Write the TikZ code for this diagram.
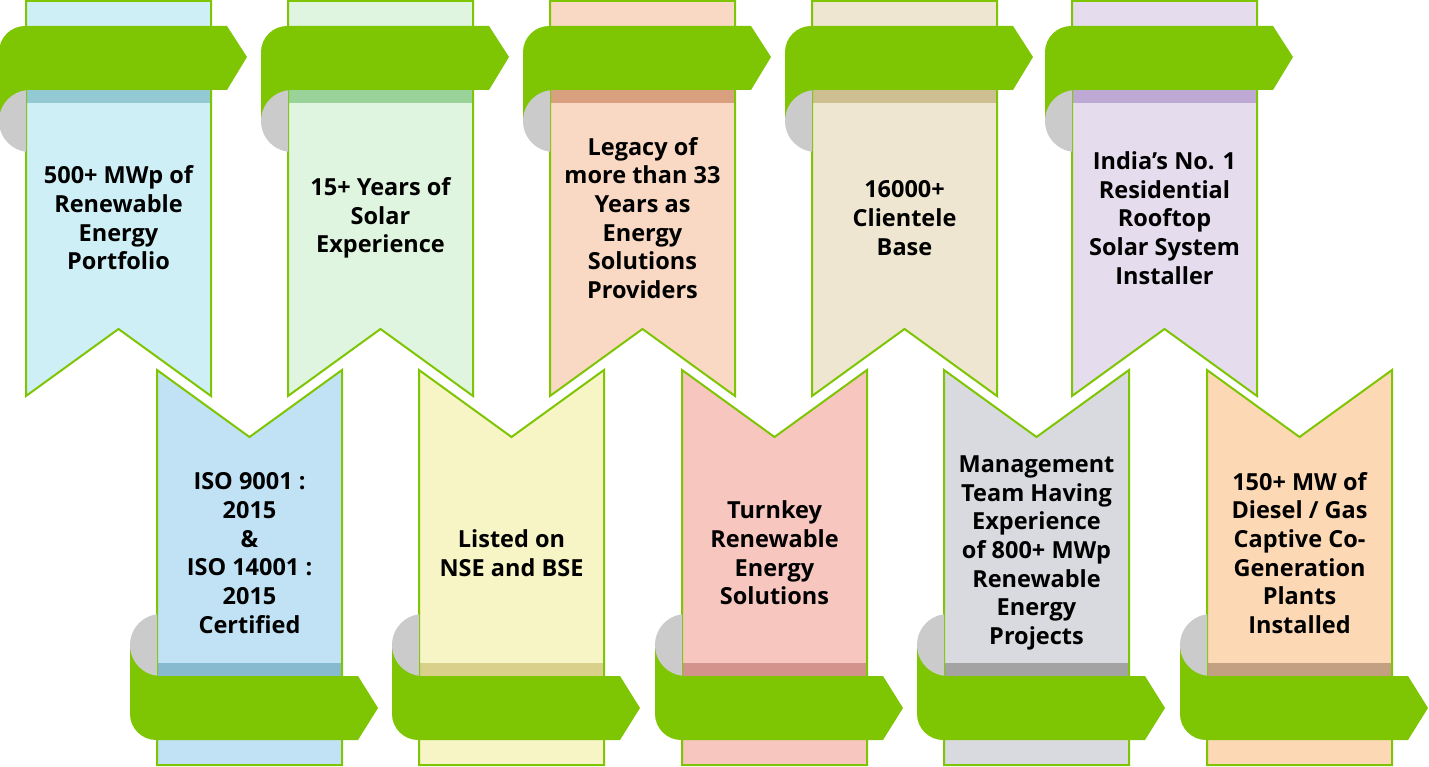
\documentclass[tikz,border=0pt]{standalone}
\usepackage{fontspec}
\setmainfont{Open Sans}
\usepackage{tikz}

\definecolor{ribbongreen}{HTML}{7EC503}
\definecolor{curlgrey}{HTML}{CBCBCB}
\definecolor{skyfill}{HTML}{CFEFF6}   \definecolor{skyband}{HTML}{93C9D2}
\definecolor{mintfill}{HTML}{E0F5E0}  \definecolor{mintband}{HTML}{99D39A}
\definecolor{peachfill}{HTML}{F9D9C3} \definecolor{peachband}{HTML}{D9A07F}
\definecolor{sandfill}{HTML}{EEE6D0}  \definecolor{sandband}{HTML}{CDBF92}
\definecolor{lilacfill}{HTML}{E5DCEE} \definecolor{lilacband}{HTML}{BDA9D4}
\definecolor{bluefill}{HTML}{C0E2F4}  \definecolor{blueband}{HTML}{88BACF}
\definecolor{lemonfill}{HTML}{F7F4C6} \definecolor{lemonband}{HTML}{D9D08C}
\definecolor{rosefill}{HTML}{F7C6BF}  \definecolor{roseband}{HTML}{D4928C}
\definecolor{greyfill}{HTML}{D9DADF}  \definecolor{greyband}{HTML}{A3A3A3}
\definecolor{melonfill}{HTML}{FCD8B4} \definecolor{melonband}{HTML}{C4A083}

\begin{document}
\begin{tikzpicture}[x=1pt,y=-1pt,
    bannerline/.style={draw=ribbongreen,line width=2pt},
    ribbon/.style={fill=ribbongreen},
    curl/.style={fill=curlgrey},
    tagtext/.style={font=\fontsize{23.5}{28.7}\selectfont\bfseries,align=center,inner sep=0pt}]
    \useasboundingbox (0,0) rectangle (1429,767);
    % upper row: hanging banners
    \foreach \xl/\fc/\bc in {26/skyfill/skyband,288/mintfill/mintband,550/peachfill/peachband,812/sandfill/sandband,1072/lilacfill/lilacband}{
        \fill[\fc] (\xl,1) -- ({\xl+185},1) -- ({\xl+185},396) -- ({\xl+92.5},329) -- (\xl,396) -- cycle;
        \fill[\bc] (\xl,90) rectangle ({\xl+185},103);
        \draw[bannerline] (\xl,1) -- ({\xl+185},1) -- ({\xl+185},396) -- ({\xl+92.5},329) -- (\xl,396) -- cycle;
        \fill[ribbon] (\xl,121) -- ({\xl-27},121) -- ({\xl-27},52) .. controls ({\xl-27},37.6) and ({\xl-15},26) .. ({\xl-1},26)
            -- ({\xl+201},26) -- ({\xl+221},57) -- ({\xl+201},90) -- (\xl,90) -- cycle;
        \begin{scope}
            \clip ({\xl-40},89) rectangle (\xl,160);
            \fill[curl] ({\xl+4},121) circle (31pt);
        \end{scope}
    }
    % lower row: standing banners
    \foreach \xl/\fc/\bc in {157/bluefill/blueband,419/lemonfill/lemonband,682/rosefill/roseband,944/greyfill/greyband,1207/melonfill/melonband}{
        \fill[\fc] (\xl,370) -- ({\xl+92.5},437) -- ({\xl+185},370) -- ({\xl+185},765) -- (\xl,765) -- cycle;
        \fill[\bc] (\xl,663) rectangle ({\xl+185},676);
        \draw[bannerline] (\xl,370) -- ({\xl+92.5},437) -- ({\xl+185},370) -- ({\xl+185},765) -- (\xl,765) -- cycle;
        \fill[ribbon] (\xl,645) -- ({\xl-27},645) -- ({\xl-27},714) .. controls ({\xl-27},728.4) and ({\xl-15},740) .. ({\xl-1},740)
            -- ({\xl+201},740) -- ({\xl+221},708) -- ({\xl+201},676) -- (\xl,676) -- cycle;
        \begin{scope}
            \clip ({\xl-40},600) rectangle (\xl,677);
            \fill[curl] ({\xl+4},645) circle (31pt);
        \end{scope}
    }
    % texts
    \node[tagtext] (t1) at (118.5,218) {500+ MWp of\\Renewable\\Energy\\Portfolio};
    \node[tagtext] (t2) at (380.5,218) {15+ Years of\\Solar\\Experience};
    \node[tagtext] (t3) at (642.5,218) {Legacy of\\more than 33\\Years as\\Energy\\Solutions\\Providers};
    \node[tagtext] (t4) at (904.5,218) {16000+\\Clientele\\Base};
    \node[tagtext] (t5) at (1164.5,218) {India’s No. 1\\Residential\\Rooftop\\Solar System\\Installer};
    \node[tagtext] (b1) at (249.5,553) {ISO 9001 :\\2015\\\&\\ISO 14001 :\\2015\\Certified};
    \node[tagtext] (b2) at (511.5,553) {Listed on\\NSE and BSE};
    \node[tagtext] (b3) at (774.5,553) {Turnkey\\Renewable\\Energy\\Solutions};
    \node[tagtext] (b4) at (1036.5,553) {Management\\Team Having\\Experience\\of 800+ MWp\\Renewable\\Energy\\Projects};
    \node[tagtext] (b5) at (1299.5,553) {150+ MW of\\Diesel / Gas\\Captive Co-\\Generation\\Plants\\Installed};
\end{tikzpicture}
\end{document}
